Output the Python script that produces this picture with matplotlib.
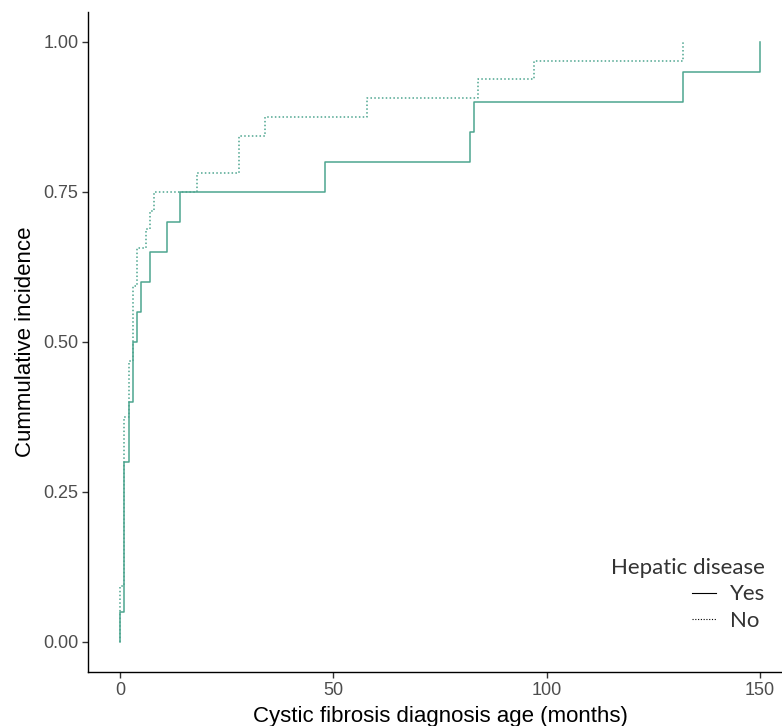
import matplotlib
matplotlib.use("Agg")
import matplotlib.pyplot as plt
from matplotlib.lines import Line2D

# Hepatic disease = Yes
yes_time = [0, 0, 1, 2, 3, 4, 5, 7, 11, 14, 48, 82, 83, 132, 150]
yes_inc = [0, 0.05, 0.30, 0.40, 0.50, 0.55, 0.60, 0.65, 0.70, 0.75,
           0.80, 0.85, 0.90, 0.95, 1.00]

# Hepatic disease = No
no_time = [0, 0, 1, 2, 3, 4, 6, 7, 8, 18, 28, 34, 58, 84, 97, 132]
no_inc = [0, 0.094, 0.375, 0.469, 0.594, 0.656, 0.688, 0.719, 0.75,
          0.781, 0.844, 0.875, 0.906, 0.938, 0.969, 1.00]

x_ticks = [0, 50, 100, 150]
y_ticks = [0, 0.25, 0.50, 0.75, 1.00]
y_labels = ["0.00", "0.25", "0.50", "0.75", "1.00"]

col = "#4DA58F"

fig = plt.figure(figsize=(7.82, 7.26), dpi=100)
ax = fig.add_axes([88 / 782, (726 - 672) / 726, (792 - 88) / 782, (672 - 12) / 726])

ax.step(yes_time, yes_inc, where="post", color=col, lw=1.1)
ax.step(no_time, no_inc, where="post", color=col, lw=1.1, linestyle=(0, (1, 1.5)))

ax.set_xlim(-7.5, 157.5)
ax.set_ylim(-0.05, 1.05)
ax.set_xticks(x_ticks)
ax.set_yticks(y_ticks)
ax.set_yticklabels(y_labels)

for s in ["top", "right"]:
    ax.spines[s].set_visible(False)
for s in ["left", "bottom"]:
    ax.spines[s].set_linewidth(1.0)
    ax.spines[s].set_color("black")

ax.tick_params(length=4, width=1, color="#333333", labelsize=13,
               labelcolor="#4d4d4d", pad=3)
for lab in ax.get_xticklabels() + ax.get_yticklabels():
    lab.set_family("Liberation Sans")

ax.set_xlabel("Cystic fibrosis diagnosis age (months)", family="Liberation Sans",
              fontsize=16, labelpad=5)
ax.set_ylabel("Cummulative incidence", family="Liberation Sans",
              fontsize=16, labelpad=5)

handles = [Line2D([], [], color="black", lw=0.8),
           Line2D([], [], color="black", lw=0.8, linestyle=(0, (1, 1.5)))]
leg = ax.legend(handles, ["Yes", "No"], title="Hepatic disease",
                loc="lower right", bbox_to_anchor=(765 / 782, 95 / 726),
                bbox_transform=fig.transFigure, frameon=False,
                prop={"family": "Lato", "size": 16}, handlelength=1.1,
                handletextpad=0.6, labelspacing=0.3, alignment="right",
                borderpad=0, borderaxespad=0)
leg.get_title().set_family("Lato")
leg.get_title().set_fontsize(16)
leg.get_title().set_color("#333333")
for t in leg.get_texts():
    t.set_color("#333333")

fig.savefig("out.png", dpi=100)
